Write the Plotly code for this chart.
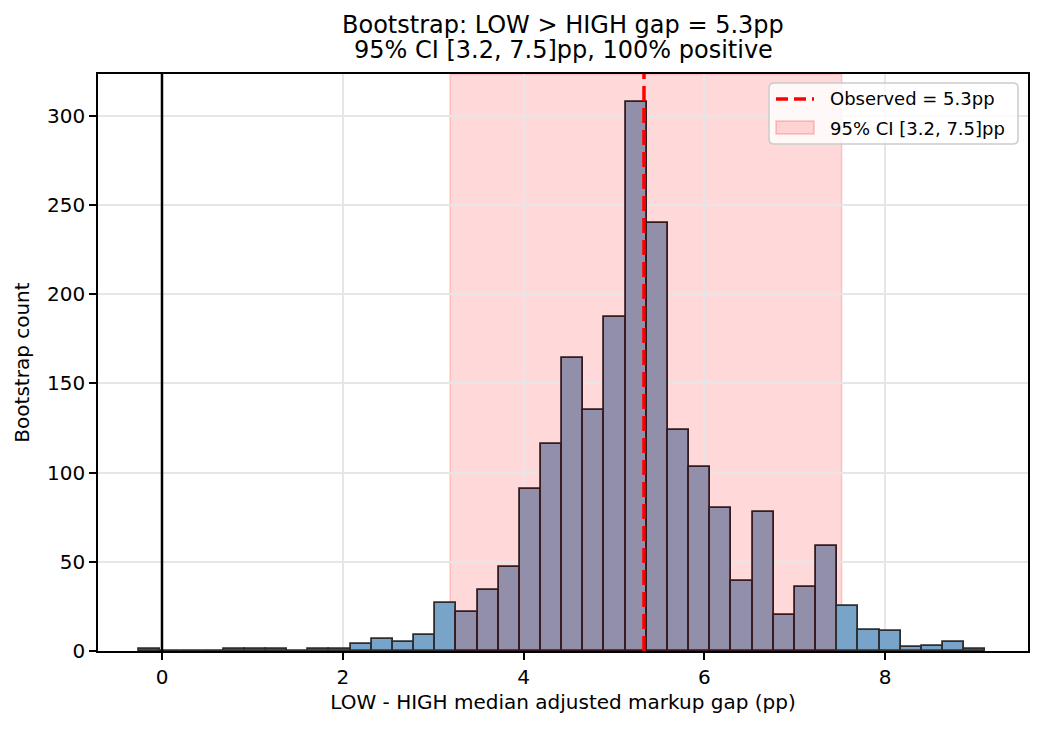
import numpy as np
import plotly.graph_objects as go

# ---- data ----
bin_lo = -0.2545
bin_hi = 9.11
counts = [1, 0, 0, 0, 1, 1, 1, 0, 1, 1,
          4, 7, 5, 9, 27, 22, 34, 47, 91, 116,
          164, 135, 187, 308, 240, 124, 103, 80, 39, 78,
          20, 36, 59, 25, 12, 11, 2, 3, 5, 1]
observed = 5.333
ci_lo = 3.187
ci_hi = 7.52
x_ticks = [0, 2, 4, 6, 8]
y_ticks = [0, 50, 100, 150, 200, 250, 300]

title_1 = "Bootstrap: LOW > HIGH gap = 5.3pp"
title_2 = "95% CI [3.2, 7.5]pp, 100% positive"
x_label = "LOW - HIGH median adjusted markup gap (pp)"
y_label = "Bootstrap count"
obs_label = "Observed = 5.3pp"
ci_label = "95% CI [3.2, 7.5]pp"

# ---- derived ----
edges = np.linspace(bin_lo, bin_hi, len(counts) + 1)
centers = (edges[:-1] + edges[1:]) / 2
width = edges[1] - edges[0]
inside = (centers >= ci_lo) & (centers <= ci_hi)

OUT_FILL = "#78a4c9"
OUT_EDGE = "#2e2e2e"
IN_FILL = "#928fab"
IN_EDGE = "#351a1f"

fill_colors = [IN_FILL if f else OUT_FILL for f in inside]
edge_colors = [IN_EDGE if f else OUT_EDGE for f in inside]

FONT = "DejaVu Sans"

fig = go.Figure()
fig.add_trace(go.Bar(
    x=centers, y=counts, width=width,
    marker=dict(color=fill_colors, line=dict(color=edge_colors, width=1.8)),
    showlegend=False, hoverinfo="skip",
))

# page pixel -> paper coordinates (plot area: x 98..1028, y 74..651 on the page)
PL, PT, PW, PH = 98, 74, 930, 577
def px_x(p):
    return (p - PL) / PW
def px_y(p):
    return 1 - (p - PT) / PH

def rounded_box(x0, y0, x1, y1, r):
    # pixel box -> paper path with rounded corners
    rx, ry = r / PW, r / PH
    X0, X1 = px_x(x0), px_x(x1)
    Yt, Yb = px_y(y0), px_y(y1)
    return (f"M {X0+rx},{Yt} L {X1-rx},{Yt} Q {X1},{Yt} {X1},{Yt-ry} "
            f"L {X1},{Yb+ry} Q {X1},{Yb} {X1-rx},{Yb} "
            f"L {X0+rx},{Yb} Q {X0},{Yb} {X0},{Yb+ry} "
            f"L {X0},{Yt-ry} Q {X0},{Yt} {X0+rx},{Yt} Z")

shapes = [
    dict(type="rect", xref="x", yref="paper", x0=ci_lo, x1=ci_hi, y0=0, y1=1,
         fillcolor="rgba(255,0,0,0.15)", line=dict(color="rgba(255,0,0,0.18)", width=1.5),
         layer="below"),
    dict(type="line", xref="x", yref="paper", x0=0, x1=0, y0=0, y1=1,
         line=dict(color="black", width=2.5), layer="above"),
    dict(type="line", xref="x", yref="paper", x0=observed, x1=observed, y0=0, y1=1,
         line=dict(color="red", width=3.5, dash="15px,7px"), layer="above"),
    # legend box
    dict(type="path", xref="paper", yref="paper", path=rounded_box(769, 83, 1018, 144, 5),
         fillcolor="rgba(255,255,255,0.8)", line=dict(color="#cccccc", width=1.5),
         layer="above"),
    # legend: dashed line sample
    dict(type="line", xref="paper", yref="paper",
         x0=px_x(776), x1=px_x(814), y0=px_y(99), y1=px_y(99),
         line=dict(color="red", width=3.5, dash="12px,6px"), layer="above"),
    # legend: CI patch sample
    dict(type="rect", xref="paper", yref="paper",
         x0=px_x(776), x1=px_x(814), y0=px_y(134), y1=px_y(121),
         fillcolor="rgba(255,0,0,0.15)", line=dict(color="rgba(255,0,0,0.22)", width=1.5),
         layer="above"),
]

fig.update_layout(
    width=1034, height=721,
    margin=dict(l=90, r=14, t=66, b=78, autoexpand=False),
    paper_bgcolor="white", plot_bgcolor="white",
    font=dict(family=FONT, size=20, color="black"),
    shapes=shapes,
    bargap=0,
    showlegend=False,
    annotations=[
        dict(text=title_1, xref="paper", yref="paper", x=0.5, y=px_y(24.5),
             xanchor="center", yanchor="middle", showarrow=False,
             font=dict(family=FONT, size=24)),
        dict(text=title_2, xref="paper", yref="paper", x=0.5, y=px_y(50.5),
             xanchor="center", yanchor="middle", showarrow=False,
             font=dict(family=FONT, size=24)),
        dict(text=obs_label, xref="paper", yref="paper", x=px_x(828), y=px_y(99),
             xanchor="left", yanchor="middle", showarrow=False,
             font=dict(family=FONT, size=18)),
        dict(text=ci_label, xref="paper", yref="paper", x=px_x(828), y=px_y(128),
             xanchor="left", yanchor="middle", showarrow=False,
             font=dict(family=FONT, size=18)),
    ],
)

fig.update_xaxes(
    range=[-0.708, 9.582], tickvals=x_ticks, ticktext=[str(v) for v in x_ticks],
    ticks="outside", ticklen=7, tickwidth=1.5, tickcolor="black",
    showline=True, linecolor="black", linewidth=1.5, mirror=True,
    showgrid=True, gridcolor="#e6e6e6", gridwidth=1.5, zeroline=False,
    title=dict(text=x_label, standoff=7, font=dict(size=20)),
    tickfont=dict(size=20), automargin=False,
)
fig.update_yaxes(
    range=[0, 323.5], tickvals=y_ticks,
    ticks="outside", ticklen=7, tickwidth=1.5, tickcolor="black",
    showline=True, linecolor="black", linewidth=1.5, mirror=True,
    showgrid=True, gridcolor="#e6e6e6", gridwidth=1.5, zeroline=False,
    title=dict(text=y_label, standoff=12, font=dict(size=20)),
    tickfont=dict(size=20), automargin=False,
)

fig.write_html("out.html")
